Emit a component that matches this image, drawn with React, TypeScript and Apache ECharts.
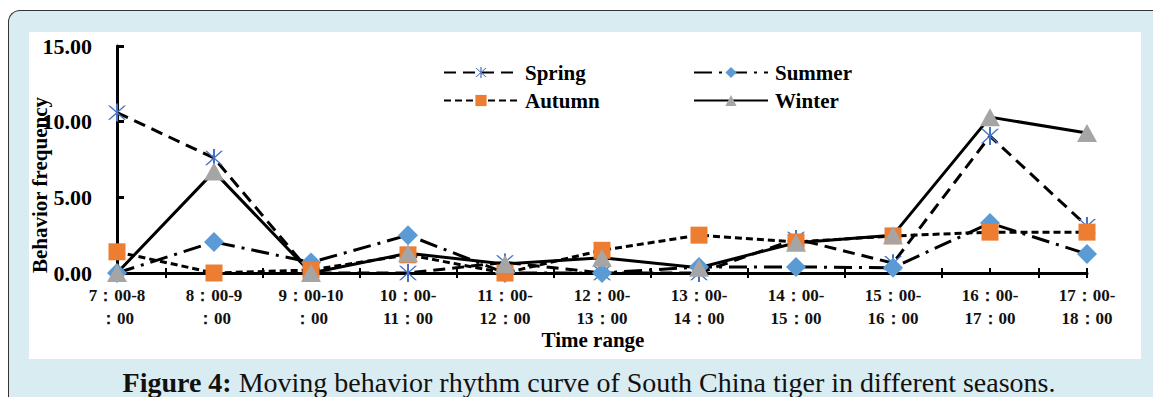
import React, { useEffect, useRef } from "react";
import * as echarts from "echarts";

const categories = [
  "7：00-8\n：00",
  "8：00-9\n：00",
  "9：00-10\n：00",
  "10：00-\n11：00",
  "11：00-\n12：00",
  "12：00-\n13：00",
  "13：00-\n14：00",
  "14：00-\n15：00",
  "15：00-\n16：00",
  "16：00-\n17：00",
  "17：00-\n18：00",
];
const spring = [10.6, 7.6, 0, 0, 0.7, 0, 0, 2.25, 0.65, 9.05, 3.1];
const summer = [0, 2.05, 0.7, 2.5, 0, 0, 0.4, 0.4, 0.35, 3.3, 1.25];
const autumn = [1.4, 0, 0.2, 1.2, 0, 1.5, 2.5, 2.05, 2.45, 2.7, 2.7];
const winter = [0, 6.7, 0, 1.3, 0.6, 1.0, 0.35, 2.0, 2.5, 10.3, 9.25];
const seriesNames = ["Spring", "Summer", "Autumn", "Winter"];
const yTicks = { min: 0, max: 15, interval: 5 };
const caption = "Moving behavior rhythm curve of South China tiger in different seasons.";

const SERIF = "'Liberation Serif', 'Times New Roman', serif";
const STAR =
  "path://M9,0 L11,0 L11,20 L9,20 Z M1,2 L3,2 L19,18 L17,18 Z M17,2 L19,2 L3,18 L1,18 Z";

export default function App() {
  const ref = useRef<HTMLDivElement>(null);
  useEffect(() => {
    document.body.style.overflow = "hidden";
    const chart = echarts.init(ref.current!, null, { renderer: "svg" });
    const halfCats: string[] = [];
    categories.forEach((c, i) => {
      halfCats.push(c);
      if (i < categories.length - 1) halfCats.push(c + "|mid");
    });
    const helperAxis = (inside: boolean) => ({
      type: "category",
      data: halfCats,
      boundaryGap: false,
      position: "bottom",
      axisLine: { show: false },
      axisLabel: { show: false },
      splitLine: { show: false },
      axisTick: {
        show: true,
        inside,
        length: 5,
        interval: (i: number) => i % 2 === 1 || i === halfCats.length - 1,
        lineStyle: { color: "#000", width: 2 },
      },
    });
    const lineBase = (name: string, data: number[], dash: any, symbol: string, size: any, color: string) => ({
      name,
      type: "line",
      data,
      xAxisIndex: 0,
      symbol,
      symbolSize: size,
      showAllSymbol: true,
      lineStyle: { color: "#000", width: 3, type: dash },
      itemStyle: { color, borderWidth: 0 },
    });
    const legendItem = (name: string, left: number, top: number) => ({
      data: [name],
      left,
      top,
      itemWidth: 74,
      itemHeight: 14,
      textStyle: {
        fontFamily: SERIF,
        fontWeight: "bold",
        fontSize: 21,
        color: "#000",
        padding: [0, 0, 0, 2],
      },
    });
    chart.setOption({
      animation: false,
      legend: [
        legendItem("Spring", 438, 57),
        legendItem("Summer", 688, 57),
        legendItem("Autumn", 438, 85),
        legendItem("Winter", 688, 85),
      ],
      grid: { left: 117, top: 46, right: 66, bottom: 124, containLabel: false },
      xAxis: [
        {
          type: "category",
          data: categories,
          boundaryGap: false,
          axisLine: { lineStyle: { color: "#000", width: 3 } },
          axisTick: { show: true, inside: true, length: 5, lineStyle: { color: "#000", width: 2 } },
          axisLabel: {
            interval: 0,
            fontFamily: SERIF,
            fontWeight: "bold",
            fontSize: 17,
            color: "#111",
            lineHeight: 23,
            margin: 11,
          },
          splitLine: { show: false },
        },
        helperAxis(true),
        helperAxis(false),
      ],
      yAxis: {
        type: "value",
        min: yTicks.min,
        max: yTicks.max,
        interval: yTicks.interval,
        axisLine: { show: true, lineStyle: { color: "#000", width: 3 } },
        axisTick: { show: true, inside: true, length: 7, lineStyle: { color: "#000", width: 3 } },
        splitLine: { show: false },
        axisLabel: {
          formatter: (v: number) => v.toFixed(2),
          fontFamily: SERIF,
          fontWeight: "bold",
          fontSize: 22,
          color: "#000",
          margin: 25,
        },
      },
      graphic: [
        {
          type: "text",
          x: 40,
          y: 185,
          rotation: Math.PI / 2,
          style: {
            text: "Behavior frequency",
            fontFamily: SERIF,
            fontWeight: "bold",
            fontSize: 21,
            fill: "#000",
            align: "center",
            verticalAlign: "middle",
          },
        },
        {
          type: "text",
          x: 593,
          y: 340,
          style: {
            text: "Time range",
            fontFamily: SERIF,
            fontWeight: "bold",
            fontSize: 21,
            fill: "#000",
            align: "center",
            verticalAlign: "middle",
          },
        },
        {
          type: "text",
          x: 589,
          y: 382,
          style: {
            text: "{b|Figure 4:} " + caption,
            fontFamily: SERIF,
            fontSize: 28,
            fill: "#111",
            align: "center",
            verticalAlign: "middle",
            rich: { b: { fontFamily: SERIF, fontSize: 28, fontWeight: "bold", fill: "#111" } },
          },
        },
      ],
      series: [
        lineBase(seriesNames[0], spring, [12, 7], STAR, 18, "#4472C4"),
        lineBase(seriesNames[1], summer, [18, 7, 3, 7], "diamond", 20, "#5B9BD5"),
        lineBase(seriesNames[2], autumn, [7, 4], "rect", 17, "#ED7D31"),
        lineBase(seriesNames[3], winter, "solid", "triangle", [20, 18], "#A5A5A5"),
      ],
    });
    return () => chart.dispose();
  }, []);
  return (
    <div style={{ position: "fixed", left: 0, top: 0, width: 1153, height: 397, overflow: "hidden", background: "#fff" }}>
      <div
        style={{
          position: "absolute",
          left: 8,
          top: 10,
          width: 1160,
          height: 400,
          boxSizing: "border-box",
          borderLeft: "1.5px solid #333",
          borderTop: "1.5px solid #333",
          borderTopLeftRadius: 12,
          background: "#d9ecf1",
        }}
      />
      <div style={{ position: "absolute", left: 29, top: 32, width: 1112, height: 327, background: "#fff" }} />
      <div ref={ref} style={{ position: "absolute", left: 0, top: 0, width: 1153, height: 397 }} />
    </div>
  );
}
